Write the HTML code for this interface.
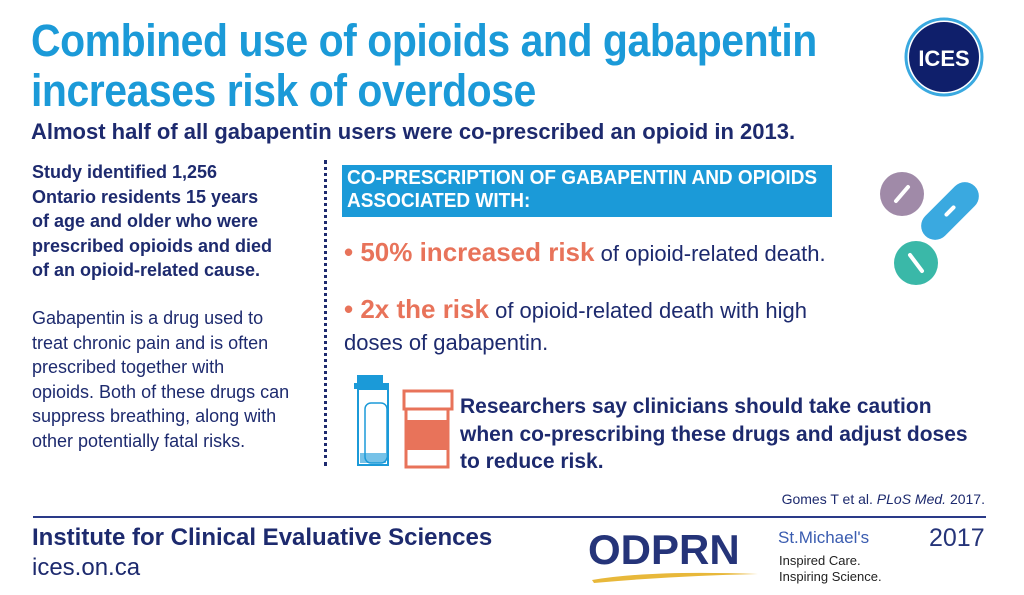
<!DOCTYPE html>
<html><head><meta charset="utf-8"><style>
body{margin:0;width:1024px;height:595px;background:#fff;position:relative;overflow:hidden;font-family:"Liberation Sans",sans-serif;color:#1d2a6e}
.a{position:absolute;white-space:nowrap}
</style></head><body>
<div class="a" style="left:31px;top:16px;font-size:45px;font-weight:bold;color:#1b9ad8;line-height:50px;letter-spacing:-0.5px;transform:scaleX(0.91);transform-origin:0 0">Combined use of opioids and gabapentin<br>increases risk of overdose</div>
<div class="a" style="left:31px;top:119px;font-size:22px;font-weight:bold;line-height:26px">Almost half of all gabapentin users were co-prescribed an opioid in 2013.</div>
<div class="a" style="left:32px;top:160px;font-size:18px;font-weight:bold;line-height:24.5px">Study identified 1,256<br>Ontario residents 15 years<br>of age and older who were<br>prescribed opioids and died<br>of an opioid-related cause.</div>
<div class="a" style="left:32px;top:306px;font-size:18px;line-height:24.5px">Gabapentin is a drug used to<br>treat chronic pain and is often<br>prescribed together with<br>opioids.  Both of these drugs can<br>suppress breathing, along with<br>other potentially fatal risks.</div>
<div class="a" style="left:324px;top:160px;height:306px;border-left:3px dotted #1d2a6e"></div>
<div class="a" style="left:342px;top:165px;width:490px;height:52px;background:#1b9ad8"></div>
<div class="a" style="left:347px;top:167px;font-size:20px;font-weight:bold;color:#fff;line-height:23px;transform:scaleX(0.95);transform-origin:0 0">CO-PRESCRIPTION OF GABAPENTIN AND OPIOIDS<br>ASSOCIATED WITH:</div>
<div class="a" style="left:344px;top:235px;font-size:22px;line-height:34px"><b style="color:#e8735a;font-size:26px">• 50% increased risk</b> of opioid-related death.</div>
<div class="a" style="left:344px;top:293px;font-size:22px;line-height:32px"><b style="color:#e8735a;font-size:26px">• 2x the risk</b> of opioid-related death with high<br>doses of gabapentin.</div>
<svg class="a" style="left:350px;top:375px" width="110" height="95">
<rect x="7" y="0" width="26" height="10" fill="#1b9ad8"/><rect x="4" y="8" width="35" height="6" fill="#1b9ad8"/>
<rect x="8" y="14" width="30" height="76" fill="none" stroke="#1b9ad8" stroke-width="2"/>
<rect x="15" y="28" width="22" height="60" rx="6" fill="none" stroke="#1b9ad8" stroke-width="1.5"/>
<rect x="10" y="78" width="26" height="10" fill="#1b9ad8" opacity=".6"/>
<rect x="54" y="16" width="48" height="18" fill="none" stroke="#e8735a" stroke-width="3"/>
<rect x="56" y="34" width="42" height="58" fill="none" stroke="#e8735a" stroke-width="3"/>
<rect x="56" y="45" width="42" height="30" fill="#e8735a"/>
</svg>
<div class="a" style="left:460px;top:393px;font-size:21px;font-weight:bold;line-height:27.5px">Researchers say clinicians should take caution<br>when co-prescribing these drugs and adjust doses<br>to reduce risk.</div>
<div class="a" style="right:39px;top:491px;font-size:14px">Gomes T et al. <i>PLoS Med.</i> 2017.</div>
<div class="a" style="left:33px;top:516px;width:953px;height:2px;background:#2a3a88"></div>
<div class="a" style="left:32px;top:523px;font-size:24px;font-weight:bold;line-height:30px">Institute for Clinical Evaluative Sciences</div>
<div class="a" style="left:32px;top:553px;font-size:24px;line-height:30px">ices.on.ca</div>
<div class="a" style="left:588px;top:527px;font-size:42px;font-weight:bold;color:#253479;line-height:46px">ODPRN</div>
<svg class="a" style="left:590px;top:568px" width="170" height="16"><path d="M2 12 Q60 2 168 6 Q80 8 4 15Z" fill="#e8b83a"/></svg>
<div class="a" style="left:778px;top:527px;font-size:17px;color:#3a5cb0;line-height:22px">St.Michael's</div>
<div class="a" style="left:779px;top:553px;font-size:13px;color:#222;line-height:16px">Inspired Care.<br>Inspiring Science.</div>
<div class="a" style="left:929px;top:523px;font-size:25px;color:#253479;line-height:30px">2017</div>
<svg class="a" style="left:900px;top:15px" width="90" height="90">
<circle cx="44" cy="42" r="38" fill="none" stroke="#3aa9e0" stroke-width="3"/>
<circle cx="44" cy="42" r="35" fill="#0f1f6b"/>
<text x="44" y="51" text-anchor="middle" font-family="Liberation Sans" font-weight="bold" font-size="22" fill="#fff">ICES</text>
</svg>
<svg class="a" style="left:870px;top:165px" width="120" height="130">
<circle cx="32" cy="29" r="22" fill="#a08aa8"/><line x1="26" y1="36" x2="38" y2="22" stroke="#fff" stroke-width="4" stroke-linecap="round"/>
<g transform="rotate(-45 80 46)"><rect x="45" y="32" width="70" height="28" rx="14" fill="#3aa9e0"/><line x1="75" y1="46" x2="85" y2="46" stroke="#fff" stroke-width="4" stroke-linecap="round"/></g>
<circle cx="46" cy="98" r="22" fill="#3ab8a8"/><line x1="40" y1="90" x2="52" y2="106" stroke="#fff" stroke-width="4" stroke-linecap="round"/>
</svg>
</body></html>
